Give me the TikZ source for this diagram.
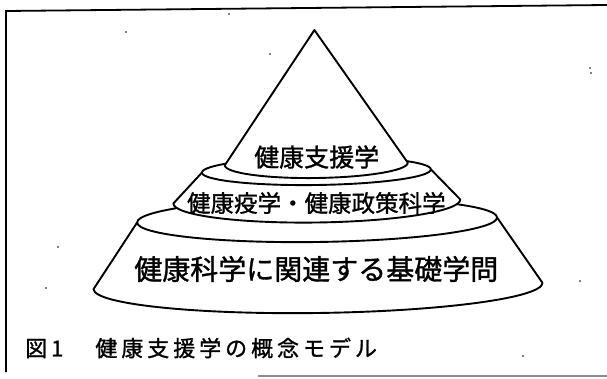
\documentclass[tikz,border=0pt]{standalone}
\usepackage{fontspec}
\newfontfamily\jp[FakeBold=1.2]{Noto Sans CJK JP}
\newfontfamily\jpcap[LetterSpace=18,FakeBold=1.2]{Noto Sans CJK JP}
\begin{document}
\begin{tikzpicture}[x=1pt,y=1pt,
  tier/.style={draw=black,fill=white,line width=1.9pt,line join=round},
  edge/.style={draw=black,line width=1.9pt},
  lab/.style={inner sep=0pt,font=\jp}]
\useasboundingbox (0,0) rectangle (607,378);
\fill[white] (0,0) rectangle (607,378);
% frame
\coordinate (ftl) at (6,367);
\coordinate (ftr) at (607,373);
\coordinate (fbl) at (6,6);
\coordinate (gl) at (258,2);
\coordinate (gr) at (607,2);
\draw[line width=1.8pt] (fbl) -- (ftl) -- (ftr);
\draw[black!45,line width=1.2pt] (gl) -- (gr);
% specks
\foreach \p in {(126,346),(229,364),(270,324),(590,310),(591,305),(58,131),(46,90),(580,97),(523,22),(294,207)}
  \fill \p circle (0.9);
\begin{scope}[rotate around={0.8:(316.5,200)}]
  % bottom tier
  \path[tier] (136.5,158) arc[start angle=180,end angle=0,x radius=180pt,y radius=22pt]
     -- (541,92) arc[start angle=0,end angle=-180,x radius=224.5pt,y radius=27pt] -- cycle;
  \draw[edge] (136.5,158) arc[start angle=180,end angle=360,x radius=180pt,y radius=22pt];
  % middle tier
  \path[tier] (202,207) arc[start angle=180,end angle=0,x radius=114.5pt,y radius=14pt]
     -- (460,176.5) arc[start angle=0,end angle=-180,x radius=143.5pt,y radius=21pt] -- cycle;
  \draw[edge] (202,207) arc[start angle=180,end angle=360,x radius=114.5pt,y radius=14pt];
  % cone
  \coordinate (apex) at (316.5,348);
  \path[tier] (225,214) -- (apex) -- (408,214)
     arc[start angle=0,end angle=-180,x radius=91.5pt,y radius=14pt] -- cycle;
  % labels
  \node[lab,font=\jp\fontsize{25}{25}\selectfont] (t1) at (317,221) {健康支援学};
  \node[lab,font=\jp\fontsize{23.5}{23.5}\selectfont] (t2) at (316,175) {健康疫学・健康政策科学};
  \node[lab,font=\jp\fontsize{28}{28}\selectfont] (t3) at (315,109) {健康科学に関連する基礎学問};
\end{scope}
\node[lab,anchor=west,font=\jpcap\fontsize{22}{22}\selectfont] (cap) at (25,30) {図1\hspace{32pt}健康支援学の概念モデル};
\end{tikzpicture}
\end{document}
